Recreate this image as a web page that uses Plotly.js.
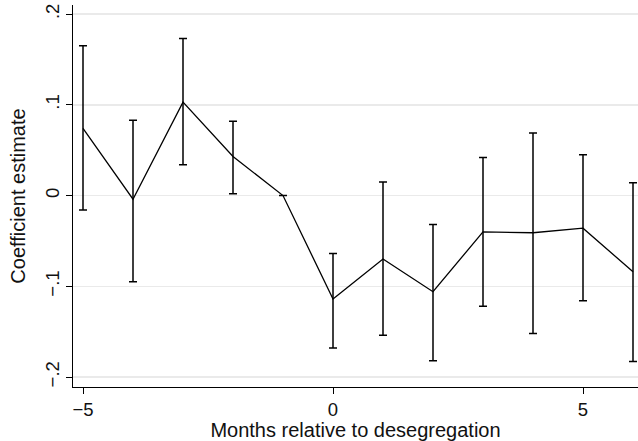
<!DOCTYPE html>
<html>
<head>
<meta charset="utf-8">
<script src="https://cdn.plot.ly/plotly-3.0.1.min.js"></script>
<style>html,body{margin:0;padding:0;background:#fff}#chart{width:638px;height:441px}</style>
</head>
<body>
<div id="chart"></div>
<script>
const months = [-5, -4, -3, -2, -1, 0, 1, 2, 3, 4, 5, 6];
const coef   = [0.074, -0.004, 0.103, 0.043, 0.0, -0.114, -0.070, -0.106, -0.040, -0.041, -0.036, -0.084];
const ciHigh = [0.165, 0.083, 0.173, 0.082, 0.0, -0.064, 0.015, -0.032, 0.042, 0.069, 0.045, 0.014];
const ciLow  = [-0.016, -0.095, 0.034, 0.002, 0.0, -0.168, -0.154, -0.182, -0.122, -0.152, -0.116, -0.183];
const yTickVals = [0.2, 0.1, 0, -0.1, -0.2];
const yTickText = [".2", ".1", "0", "\u2212.1", "\u2212.2"];
const xTickVals = [-5, 0, 5];

const trace = {
  x: months, y: coef, type: 'scatter', mode: 'lines',
  line: {color: '#000', width: 1.3},
  error_y: {
    type: 'data', symmetric: false,
    array: ciHigh.map((h, i) => h - coef[i]),
    arrayminus: coef.map((c, i) => c - ciLow[i]),
    color: '#000', thickness: 1.5, width: 4
  },
  hoverinfo: 'none'
};

const font = {family: 'Liberation Sans, Arial, sans-serif', color: '#111'};
const layout = {
  width: 638, height: 441,
  margin: {l: 73, r: 0, t: 5, b: 54},
  paper_bgcolor: '#fff', plot_bgcolor: '#fff',
  showlegend: false,
  font: Object.assign({size: 20}, font),
  xaxis: {
    range: [-5.2, 6.1], tickvals: xTickVals,
    showgrid: false, zeroline: false,
    showline: true, linecolor: '#000', linewidth: 1,
    ticks: 'outside', ticklen: 6, tickcolor: '#000', tickwidth: 1,
    tickfont: {size: 18.5},
    title: {text: 'Months relative to desegregation', font: {size: 20}, standoff: 0}
  },
  yaxis: {
    range: [-0.211, 0.21], tickvals: yTickVals, ticktext: yTickText,
    tickangle: -90,
    showgrid: true, gridcolor: '#eaeaea', gridwidth: 1.5, zeroline: false,
    showline: true, linecolor: '#000', linewidth: 1,
    ticks: 'outside', ticklen: 6, tickcolor: '#000', tickwidth: 1,
    tickfont: {size: 18.5},
    title: {text: 'Coefficient estimate', font: {size: 20}, standoff: 10}
  }
};
Plotly.newPlot('chart', [trace], layout, {staticPlot: true, displayModeBar: false});
</script>
</body>
</html>
